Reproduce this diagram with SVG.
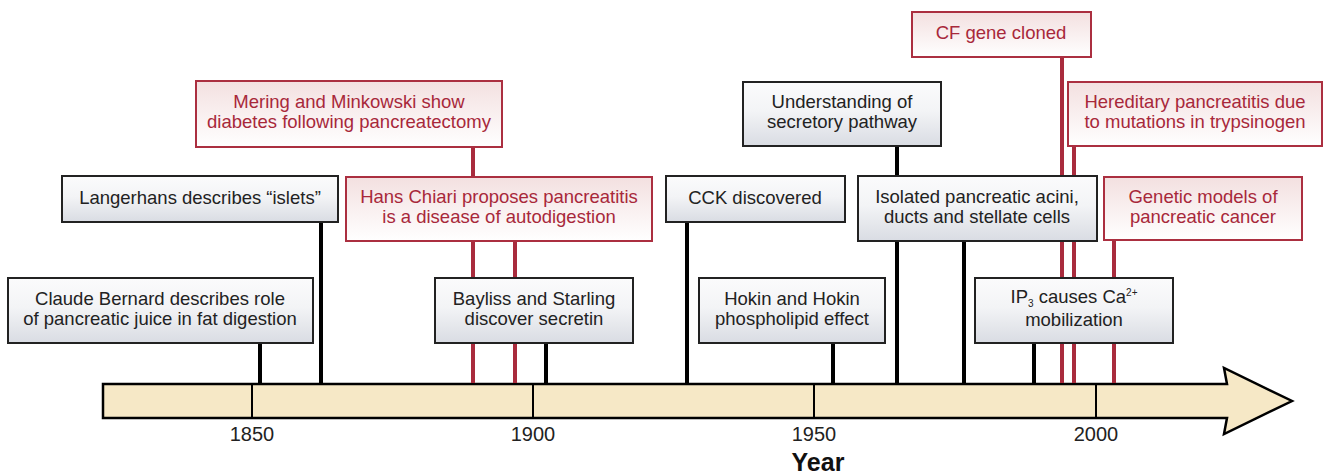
<svg xmlns="http://www.w3.org/2000/svg" width="1325" height="476" viewBox="0 0 1325 476">
<defs>
<linearGradient id="gk" x1="0" y1="0" x2="0" y2="1"><stop offset="0" stop-color="#fbfbfc"/><stop offset="0.45" stop-color="#f3f4f6"/><stop offset="1" stop-color="#d9dce3"/></linearGradient>
<linearGradient id="gr" x1="0" y1="0" x2="0" y2="1"><stop offset="0" stop-color="#f3e0e0"/><stop offset="1" stop-color="#ffffff"/></linearGradient>
</defs>
<style>
.kb{fill:url(#gk);stroke:#222;stroke-width:2}
.rb{fill:url(#gr);stroke:#ab2f40;stroke-width:2}
.kt{font-family:"Liberation Sans",Arial,sans-serif;font-size:18.5px;fill:#222;text-anchor:middle}
.rt{font-family:"Liberation Sans",Arial,sans-serif;font-size:18.5px;fill:#a8283a;text-anchor:middle}
.kl{stroke:#000;stroke-width:4;fill:none}
.rl{stroke:#a92b3d;stroke-width:4;fill:none}
.yr{font-family:"Liberation Sans",Arial,sans-serif;font-size:20px;fill:#222;text-anchor:middle}
.tk{stroke:#000;stroke-width:2}
</style>
<g id="axis">
<polygon points="103,384 1227,384 1224,368 1292,401 1224,434 1227,418 103,418" fill="#f6e8c6" stroke="#000" stroke-width="2.5" stroke-linejoin="miter"/>
<line class="tk" x1="252" y1="384" x2="252" y2="418"/>
<line class="tk" x1="533" y1="384" x2="533" y2="418"/>
<line class="tk" x1="814" y1="384" x2="814" y2="418"/>
<line class="tk" x1="1096" y1="384" x2="1096" y2="418"/>
<text class="yr" x="252" y="441">1850</text>
<text class="yr" x="533" y="441">1900</text>
<text class="yr" x="814" y="441">1950</text>
<text class="yr" x="1096" y="441">2000</text>
<text x="818" y="471" font-family="'Liberation Sans',Arial,sans-serif" font-size="25" font-weight="bold" fill="#111" text-anchor="middle">Year</text>
</g>
<g id="connectors">
<line class="kl" x1="260" y1="343" x2="260" y2="383"/>
<line class="kl" x1="321" y1="222" x2="321" y2="383"/>
<line class="rl" x1="473" y1="147" x2="473" y2="383"/>
<line class="rl" x1="515" y1="241" x2="515" y2="383"/>
<line class="kl" x1="546" y1="343" x2="546" y2="383"/>
<line class="kl" x1="687" y1="222" x2="687" y2="383"/>
<line class="kl" x1="833" y1="343" x2="833" y2="383"/>
<line class="kl" x1="897" y1="146" x2="897" y2="383"/>
<line class="kl" x1="964" y1="241" x2="964" y2="383"/>
<line class="kl" x1="1034" y1="343" x2="1034" y2="383"/>
<line class="rl" x1="1062" y1="57" x2="1062" y2="383"/>
<line class="rl" x1="1074" y1="146" x2="1074" y2="383"/>
<line class="rl" x1="1114" y1="240" x2="1114" y2="383"/>
</g>
<g id="bernard">
<rect class="kb" x="8" y="278" width="305" height="65"/>
<text class="kt" x="160" y="305">Claude Bernard describes role</text>
<text class="kt" x="160" y="325">of pancreatic juice in fat digestion</text>
</g>
<g id="langerhans">
<rect class="kb" x="62" y="176" width="276" height="46"/>
<text class="kt" x="200" y="204">Langerhans describes “islets”</text>
</g>
<g id="mering">
<rect class="rb" x="196" y="81" width="306" height="66"/>
<text class="rt" x="349" y="108">Mering and Minkowski show</text>
<text class="rt" x="349" y="128">diabetes following pancreatectomy</text>
</g>
<g id="chiari">
<rect class="rb" x="346" y="177" width="306" height="64"/>
<text class="rt" x="499" y="203">Hans Chiari proposes pancreatitis</text>
<text class="rt" x="499" y="223">is a disease of autodigestion</text>
</g>
<g id="bayliss">
<rect class="kb" x="435" y="278" width="198" height="65"/>
<text class="kt" x="534" y="305">Bayliss and Starling</text>
<text class="kt" x="534" y="325">discover secretin</text>
</g>
<g id="cck">
<rect class="kb" x="666" y="176" width="179" height="46"/>
<text class="kt" x="755" y="204">CCK discovered</text>
</g>
<g id="hokin">
<rect class="kb" x="699" y="278" width="186" height="65"/>
<text class="kt" x="792" y="305">Hokin and Hokin</text>
<text class="kt" x="792" y="325">phospholipid effect</text>
</g>
<g id="secretory">
<rect class="kb" x="743" y="82" width="198" height="64"/>
<text class="kt" x="842" y="108">Understanding of</text>
<text class="kt" x="842" y="128">secretory pathway</text>
</g>
<g id="isolated">
<rect class="kb" x="858" y="176" width="239" height="65"/>
<text class="kt" x="977" y="203">Isolated pancreatic acini,</text>
<text class="kt" x="977" y="223">ducts and stellate cells</text>
</g>
<g id="ip3">
<rect class="kb" x="975" y="278" width="198" height="65"/>
<text class="kt" x="1074" y="303">IP<tspan font-size="10" baseline-shift="-4">3</tspan> causes Ca<tspan font-size="10" baseline-shift="7">2+</tspan></text>
<text class="kt" x="1074" y="326">mobilization</text>
</g>
<g id="cfgene">
<rect class="rb" x="912" y="12" width="179" height="45"/>
<text class="rt" x="1001" y="39">CF gene cloned</text>
</g>
<g id="hereditary">
<rect class="rb" x="1068" y="82" width="254" height="64"/>
<text class="rt" x="1195" y="108">Hereditary pancreatitis due</text>
<text class="rt" x="1195" y="128">to mutations in trypsinogen</text>
</g>
<g id="genetic">
<rect class="rb" x="1104" y="177" width="198" height="63"/>
<text class="rt" x="1203" y="203">Genetic models of</text>
<text class="rt" x="1203" y="223">pancreatic cancer</text>
</g>
</svg>
